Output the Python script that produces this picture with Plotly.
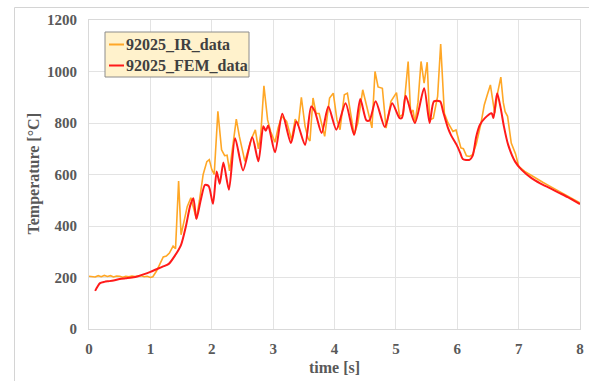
import plotly.graph_objects as go

# ---- data ----
ir_time = [0.0, 0.05, 0.1, 0.15, 0.2, 0.25, 0.3, 0.35, 0.4, 0.45, 0.5, 0.55, 0.6, 0.65, 0.7, 0.75, 0.8, 0.85, 0.9, 0.95,
           1.0, 1.04, 1.1, 1.16, 1.21, 1.26, 1.31, 1.37, 1.41, 1.46, 1.50, 1.55, 1.6, 1.66, 1.71, 1.75, 1.8, 1.86, 1.92, 1.96,
           2.0, 2.04, 2.10, 2.16, 2.21, 2.25, 2.29, 2.34, 2.40, 2.45, 2.54, 2.60, 2.65, 2.71, 2.76, 2.80, 2.85, 2.91, 2.96,
           3.03, 3.08, 3.14, 3.22, 3.30, 3.36, 3.41, 3.46, 3.52, 3.57, 3.60, 3.65, 3.70, 3.75, 3.84, 3.92, 3.98,
           4.04, 4.09, 4.16, 4.21, 4.27, 4.32, 4.38, 4.46, 4.52, 4.57, 4.61, 4.66, 4.71, 4.78, 4.84, 4.92, 5.01,
           5.06, 5.12, 5.20, 5.24, 5.28, 5.31, 5.36, 5.41, 5.46, 5.51, 5.55, 5.61, 5.68, 5.73, 5.79, 5.85, 5.93, 5.98,
           6.06, 6.10, 6.15, 6.20, 6.25, 6.31, 6.39, 6.44, 6.49, 6.54, 6.61, 6.66, 6.71, 6.75, 6.78, 6.82, 6.88, 6.95,
           7.0, 7.1, 7.21, 7.3, 7.4, 7.5, 7.6, 7.7, 7.8, 7.9, 8.0]
ir_temp = [205, 203, 202, 207, 203, 208, 204, 207, 202, 206, 205, 201, 205, 203, 206, 204, 205, 207, 203, 205,
           200, 203, 225, 255, 280, 283, 295, 322, 312, 575, 366, 420, 475, 510, 470, 428, 500, 600, 650, 658,
           620, 600, 845, 696, 673, 675, 614, 700, 815, 748, 651, 700, 741, 773, 700, 760, 944, 812, 767,
           725, 780, 826, 806, 734, 815, 790, 900, 788, 740, 730, 897, 837, 837, 748, 897, 916,
           812, 774, 910, 916, 820, 754, 800, 929, 870, 820, 781, 1000, 940, 935, 780, 884, 918,
           825, 833, 1039, 839, 850, 800, 880, 1039, 955, 1036, 812, 819, 903, 1107, 838, 800, 767, 773,
           703, 700, 673, 670, 677, 718, 803, 870, 910, 948, 838, 920, 978, 880, 844, 826, 722, 680,
           632, 612, 596, 582, 569, 556, 543, 530, 516, 503, 490]

fem_time = [0.1, 0.14, 0.18, 0.25, 0.3, 0.4, 0.5, 0.6, 0.7, 0.8, 0.9, 1.0, 1.1, 1.2, 1.3, 1.4, 1.5, 1.58, 1.65, 1.70,
            1.75, 1.82, 1.89, 1.95, 2.02, 2.08, 2.13, 2.19, 2.28, 2.38, 2.51, 2.66, 2.76, 2.84, 2.88, 2.92,
            3.03, 3.15, 3.29, 3.38, 3.52, 3.62, 3.68, 3.79, 3.90, 4.03, 4.18, 4.32, 4.42, 4.52, 4.57, 4.67,
            4.82, 4.94, 5.06, 5.10, 5.16, 5.31, 5.46, 5.55, 5.62, 5.72, 5.77, 5.85, 5.90, 5.99, 6.05, 6.09,
            6.20, 6.25, 6.31, 6.37, 6.45, 6.56, 6.59, 6.65, 6.71, 6.76, 6.83, 6.94, 7.05, 7.21, 7.35, 7.51,
            7.65, 7.8, 8.0]
fem_temp = [148, 165, 178, 183, 185, 188, 194, 197, 200, 205, 213, 222, 232, 242, 253, 285, 327, 400, 480, 508,
            427, 500, 560, 555, 486, 612, 564, 647, 541, 741, 616, 745, 651, 787, 770, 790,
            686, 836, 722, 806, 715, 864, 845, 761, 864, 774, 877, 754, 893, 810, 810, 884,
            784, 877, 819, 820, 906, 800, 935, 800, 884, 884, 844, 780, 752, 715, 683, 660,
            657, 672, 748, 793, 819, 838, 819, 916, 855, 787, 715, 651, 618, 586, 566, 547,
            530, 512, 485]

series_names = ["92025_IR_data", "92025_FEM_data"]
x_ticks = [0, 1, 2, 3, 4, 5, 6, 7, 8]
y_ticks = [0, 200, 400, 600, 800, 1000, 1200]

# ---- layout geometry ----
W, H = 589, 381
L, R, T, B = 89, 9, 20, 52
PW, PH = W - L - R, H - T - B


def px(xp):
    return (xp - L) / PW


def py(yp):
    return (H - B - yp) / PH


IR_COLOR = "#FFA726"
FEM_COLOR = "#FF1A1A"
TXT = "#595959"
FONT = "Liberation Serif"

fig = go.Figure()
fig.add_trace(go.Scatter(x=ir_time, y=ir_temp, mode="lines", name=series_names[0],
                         line=dict(color=IR_COLOR, width=1.6), showlegend=False))
fig.add_trace(go.Scatter(x=fem_time, y=fem_temp, mode="lines", name=series_names[1],
                         line=dict(color=FEM_COLOR, width=2, shape="spline", smoothing=0.7), showlegend=False))

fig.update_layout(
    width=W, height=H,
    margin=dict(l=L, r=R, t=T, b=B, autoexpand=False),
    paper_bgcolor="white", plot_bgcolor="white",
    font=dict(family=FONT, color=TXT),
)
fig.update_xaxes(range=[0, 8], tickvals=x_ticks, showgrid=True, gridcolor="#E3E3E3", gridwidth=1,
                 zeroline=False, showline=True, linecolor="#D9D9D9", mirror=True,
                 tickfont=dict(family=FONT, size=15, color=TXT, weight="bold"), ticklabelstandoff=6)
fig.update_yaxes(range=[0, 1200], tickvals=y_ticks, showgrid=True, gridcolor="#E3E3E3", gridwidth=1,
                 zeroline=False, showline=True, linecolor="#D9D9D9", mirror=True,
                 tickfont=dict(family=FONT, size=15, color=TXT, weight="bold"), ticklabelstandoff=8)

shapes = []
# outer chart frame (partially visible)
shapes.append(dict(type="rect", xref="paper", yref="paper", x0=px(14.5), x1=px(620), y0=py(420), y1=py(7.5),
                   line=dict(color="#D4D4D4", width=1), fillcolor="rgba(0,0,0,0)", layer="above"))
# legend box
shapes.append(dict(type="rect", xref="paper", yref="paper", x0=px(105), x1=px(249), y0=py(77), y1=py(32),
                   line=dict(color="#8C8C8C", width=1), fillcolor="#FFF2CC", layer="above"))
shapes.append(dict(type="line", xref="paper", yref="paper", x0=px(109), x1=px(124), y0=py(44.5), y1=py(44.5),
                   line=dict(color=IR_COLOR, width=2), layer="above"))
shapes.append(dict(type="line", xref="paper", yref="paper", x0=px(109), x1=px(124), y0=py(65.5), y1=py(65.5),
                   line=dict(color=FEM_COLOR, width=2), layer="above"))

annotations = [
    dict(text=series_names[0], xref="paper", yref="paper", x=px(124), y=py(44.5), xanchor="left", yanchor="middle",
         showarrow=False, font=dict(family=FONT, size=16, color="#404040", weight="bold")),
    dict(text=series_names[1], xref="paper", yref="paper", x=px(124), y=py(65.5), xanchor="left", yanchor="middle",
         showarrow=False, font=dict(family=FONT, size=16, color="#404040", weight="bold")),
    dict(text="time [s]", xref="paper", yref="paper", x=0.5, y=py(367.5), xanchor="center", yanchor="middle",
         showarrow=False, font=dict(family=FONT, size=16, color=TXT, weight="bold")),
    dict(text="Temperature [°C]", xref="paper", yref="paper", x=px(33), y=0.5, xanchor="center", yanchor="middle",
         textangle=-90, showarrow=False, font=dict(family=FONT, size=16, color=TXT, weight="bold")),
]
fig.update_layout(shapes=shapes, annotations=annotations)

fig.write_html("out.html", config={"displayModeBar": False},
               post_script="document.body.style.margin='0';document.body.style.padding='0';")
